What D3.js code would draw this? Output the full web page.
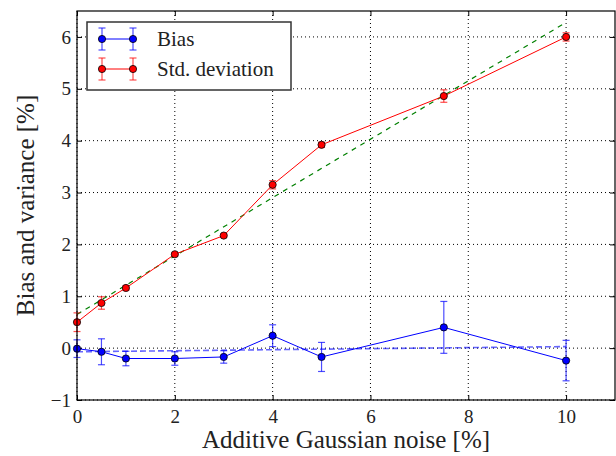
<!DOCTYPE html>
<html>
<head>
<meta charset="utf-8">
<script src="https://cdn.jsdelivr.net/npm/d3@7"></script>
<style>
  body { margin: 0; background: #fff; }
</style>
</head>
<body>
<svg id="chart"></svg>
<script>
// noise levels [%]
const noise = [0, 0.5, 1, 2, 3, 4, 5, 7.5, 10];
// bias and its error
const bias = [-0.01, -0.07, -0.2, -0.2, -0.17, 0.24, -0.17, 0.40, -0.24];
const biasErr = [0.17, 0.25, 0.14, 0.13, 0.12, 0.21, 0.28, 0.50, 0.39];
// std. deviation and its error
const stdDev = [0.5, 0.87, 1.16, 1.81, 2.17, 3.15, 3.92, 4.86, 6.0];
const stdErr = [0.18, 0.12, 0.04, 0.03, 0.03, 0.08, 0.05, 0.12, 0.08];
// linear fits (endpoints)
const fitX = [0, 10];
const fitBias = [-0.07, 0.03];
const fitStd = [0.65, 6.28];

const xTicks = [0, 2, 4, 6, 8, 10];
const yTicks = [-1, 0, 1, 2, 3, 4, 5, 6];

const serif = "Liberation Serif";

const width = 616;
const height = 456;
const margin = { top: 11, right: 1, bottom: 56, left: 77 };
const innerWidth = width - margin.left - margin.right;
const innerHeight = height - margin.top - margin.bottom;

const svg = d3.select("#chart").attr("width", width).attr("height", height);
const g = svg.append("g").attr("transform", `translate(${margin.left}, ${margin.top})`);

const xScale = d3.scaleLinear().domain([0, 11]).range([0, innerWidth]);
const yScale = d3.scaleLinear().domain([-1, 6.5]).range([innerHeight, 0]);

const fmt = d => d < 0 ? "\u2212" + Math.abs(d) : String(d);

// grid
g.selectAll(".xgrid").data(xTicks).join("line").attr("class", "xgrid")
  .attr("x1", d => xScale(d)).attr("x2", d => xScale(d))
  .attr("y1", 0).attr("y2", innerHeight)
  .attr("stroke", "black").attr("stroke-width", 1).attr("stroke-dasharray", "1,3");
g.selectAll(".ygrid").data(yTicks).join("line").attr("class", "ygrid")
  .attr("y1", d => yScale(d)).attr("y2", d => yScale(d))
  .attr("x1", 0).attr("x2", innerWidth)
  .attr("stroke", "black").attr("stroke-width", 1).attr("stroke-dasharray", "1,3");

// axes, ticks inside on every side
const xAxis = d3.axisBottom(xScale).tickValues(xTicks).tickSize(-5).tickPadding(10).tickFormat(fmt);
const yAxis = d3.axisLeft(yScale).tickValues(yTicks).tickSize(-5).tickPadding(6).tickFormat(fmt);
g.append("g").attr("class", "x-axis").attr("transform", `translate(0, ${innerHeight})`).call(xAxis);
g.append("g").attr("class", "y-axis").call(yAxis);
g.append("g").attr("class", "top-axis")
  .call(d3.axisTop(xScale).tickValues(xTicks).tickSize(-5).tickFormat(""));
g.append("g").attr("class", "right-axis").attr("transform", `translate(${innerWidth},0)`)
  .call(d3.axisRight(yScale).tickValues(yTicks).tickSize(-5).tickFormat(""));
g.selectAll(".top-axis text, .right-axis text").remove();
g.selectAll(".domain").remove();
g.selectAll(".tick line").attr("stroke", "black");
g.selectAll(".x-axis, .y-axis").attr("font-family", serif);
g.selectAll(".x-axis text, .y-axis text").attr("font-size", 19).attr("fill", "#222");

// fits
const line = d3.line().x(d => xScale(d[0])).y(d => yScale(d[1]));
g.append("path").datum(fitX.map((x, i) => [x, fitStd[i]]))
  .attr("d", line).attr("fill", "none").attr("stroke", "green")
  .attr("stroke-width", 1.2).attr("stroke-dasharray", "5,5");
g.append("path").datum(fitX.map((x, i) => [x, fitBias[i]]))
  .attr("d", line).attr("fill", "none").attr("stroke", "blue").attr("stroke-opacity", 0.6)
  .attr("stroke-width", 1.6).attr("stroke-dasharray", "6,3");

function series(vals, errs, color) {
  const pts = noise.map((x, i) => ({ x: x, y: vals[i], e: errs[i] }));
  const eb = g.append("g").attr("stroke", color).attr("stroke-opacity", 0.7).attr("stroke-width", 1.2);
  eb.selectAll(".v").data(pts).join("line")
    .attr("x1", d => xScale(d.x)).attr("x2", d => xScale(d.x))
    .attr("y1", d => yScale(d.y - d.e)).attr("y2", d => yScale(d.y + d.e));
  [-1, 1].forEach(s => {
    eb.selectAll(".c" + s).data(pts).join("line")
      .attr("x1", d => xScale(d.x) - 3.5).attr("x2", d => xScale(d.x) + 3.5)
      .attr("y1", d => yScale(d.y + s * d.e)).attr("y2", d => yScale(d.y + s * d.e));
  });
  g.append("path").datum(pts.map(d => [d.x, d.y]))
    .attr("d", line).attr("fill", "none").attr("stroke", color).attr("stroke-width", 1);
  g.append("g").selectAll("circle").data(pts).join("circle")
    .attr("cx", d => xScale(d.x)).attr("cy", d => yScale(d.y)).attr("r", 3.6)
    .attr("fill", color).attr("stroke", "black").attr("stroke-width", 0.8);
}
series(bias, biasErr, "blue");
series(stdDev, stdErr, "red");

// frame
g.append("rect").attr("width", innerWidth).attr("height", innerHeight)
  .attr("fill", "none").attr("stroke", "black").attr("stroke-width", 1.2);

// legend
const legend = svg.append("g").attr("transform", "translate(87, 22)");
legend.append("rect").attr("width", 204).attr("height", 68)
  .attr("fill", "white").attr("stroke", "#333").attr("stroke-width", 1.5);
[{ name: "Bias", color: "blue" }, { name: "Std. deviation", color: "red" }].forEach((d, i) => {
  const row = legend.append("g").attr("transform", `translate(0, ${17 + i * 30})`);
  row.append("line").attr("x1", 15).attr("x2", 46).attr("stroke", d.color).attr("stroke-width", 1);
  [15, 46].forEach(x => {
    row.append("line").attr("x1", x).attr("x2", x).attr("y1", -11).attr("y2", 11)
      .attr("stroke", d.color).attr("stroke-opacity", 0.7).attr("stroke-width", 1.2);
    row.append("line").attr("x1", x - 3.5).attr("x2", x + 3.5).attr("y1", -11).attr("y2", -11)
      .attr("stroke", d.color).attr("stroke-opacity", 0.7).attr("stroke-width", 1.2);
    row.append("line").attr("x1", x - 3.5).attr("x2", x + 3.5).attr("y1", 11).attr("y2", 11)
      .attr("stroke", d.color).attr("stroke-opacity", 0.7).attr("stroke-width", 1.2);
    row.append("circle").attr("cx", x).attr("r", 3.6)
      .attr("fill", d.color).attr("stroke", "black").attr("stroke-width", 0.8);
  });
  row.append("text").attr("x", 70).attr("y", 7)
    .attr("font-family", serif).attr("font-size", 21).attr("fill", "#222").text(d.name);
});

// x label
svg.append("text")
  .attr("text-anchor", "middle")
  .attr("x", margin.left + innerWidth / 2)
  .attr("y", 448)
  .attr("font-family", serif).attr("font-size", 25).attr("fill", "#222")
  .text("Additive Gaussian noise [%]");

// y label
svg.append("text")
  .attr("text-anchor", "middle")
  .attr("transform", "rotate(-90)")
  .attr("x", -(margin.top + innerHeight / 2))
  .attr("y", 34)
  .attr("font-family", serif).attr("font-size", 25).attr("fill", "#222")
  .text("Bias and variance [%]");
</script>
</body>
</html>
